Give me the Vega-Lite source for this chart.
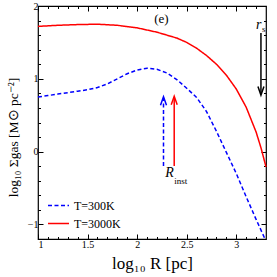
{
  "$schema": "https://vega.github.io/schema/vega-lite/v6.json",
  "autosize": "none",
  "width": 228,
  "height": 233,
  "padding": {"left": 38, "top": 6, "right": 11, "bottom": 38},
  "background": "white",
  "config": {
    "view": {"stroke": "black", "strokeWidth": 1.2},
    "font": "Liberation Serif",
    "axis": {"grid": false, "domain": false, "tickColor": "black", "tickWidth": 1, "labelFont": "Liberation Serif", "labelFontSize": 10, "labelColor": "black", "titleFont": "Liberation Serif", "titleFontWeight": "normal", "titleColor": "black"},
    "legend": {"padding": 0, "offset": 0}
  },
  "datasets": {
    "curves": [
      {"x": 1.0, "y": 0.75, "series": "T=300K"},
      {"x": 1.1, "y": 0.77, "series": "T=300K"},
      {"x": 1.2, "y": 0.79, "series": "T=300K"},
      {"x": 1.3, "y": 0.81, "series": "T=300K"},
      {"x": 1.4, "y": 0.83, "series": "T=300K"},
      {"x": 1.5, "y": 0.85, "series": "T=300K"},
      {"x": 1.6, "y": 0.88, "series": "T=300K"},
      {"x": 1.7, "y": 0.93, "series": "T=300K"},
      {"x": 1.8, "y": 1.0, "series": "T=300K"},
      {"x": 1.9, "y": 1.07, "series": "T=300K"},
      {"x": 2.0, "y": 1.12, "series": "T=300K"},
      {"x": 2.1, "y": 1.145, "series": "T=300K"},
      {"x": 2.2, "y": 1.13, "series": "T=300K"},
      {"x": 2.3, "y": 1.08, "series": "T=300K"},
      {"x": 2.4, "y": 0.99, "series": "T=300K"},
      {"x": 2.5, "y": 0.87, "series": "T=300K"},
      {"x": 2.6, "y": 0.745, "series": "T=300K"},
      {"x": 2.7, "y": 0.55, "series": "T=300K"},
      {"x": 2.8, "y": 0.28, "series": "T=300K"},
      {"x": 2.9, "y": -0.01, "series": "T=300K"},
      {"x": 3.0, "y": -0.3, "series": "T=300K"},
      {"x": 3.1, "y": -0.62, "series": "T=300K"},
      {"x": 3.2, "y": -0.93, "series": "T=300K"},
      {"x": 3.29, "y": -1.2, "series": "T=300K"},
      {"x": 1.0, "y": 1.72, "series": "T=3000K"},
      {"x": 1.2, "y": 1.735, "series": "T=3000K"},
      {"x": 1.4, "y": 1.745, "series": "T=3000K"},
      {"x": 1.6, "y": 1.75, "series": "T=3000K"},
      {"x": 1.8, "y": 1.735, "series": "T=3000K"},
      {"x": 2.0, "y": 1.7, "series": "T=3000K"},
      {"x": 2.2, "y": 1.64, "series": "T=3000K"},
      {"x": 2.4, "y": 1.56, "series": "T=3000K"},
      {"x": 2.5, "y": 1.5, "series": "T=3000K"},
      {"x": 2.6, "y": 1.42, "series": "T=3000K"},
      {"x": 2.7, "y": 1.32, "series": "T=3000K"},
      {"x": 2.8, "y": 1.2, "series": "T=3000K"},
      {"x": 2.9, "y": 1.05, "series": "T=3000K"},
      {"x": 3.0, "y": 0.86, "series": "T=3000K"},
      {"x": 3.1, "y": 0.61, "series": "T=3000K"},
      {"x": 3.2, "y": 0.27, "series": "T=3000K"},
      {"x": 3.25, "y": 0.05, "series": "T=3000K"},
      {"x": 3.3, "y": -0.21, "series": "T=3000K"}
    ],
    "arrows": [
      {"x": 2.266, "y": -0.197, "y2": 0.74, "tip": 0.752, "series": "T=300K"},
      {"x": 2.374, "y": -0.197, "y2": 0.75, "tip": 0.76, "series": "T=3000K"}
    ],
    "rs": [
      {"x": 3.249, "y": 1.629, "y2": 0.79, "tip": 0.776}
    ]
  },
  "resolve": {"axis": {"x": "independent", "y": "independent"}},
  "layer": [
    {
      "data": {"name": "curves"},
      "mark": {"type": "line", "strokeWidth": 1.5},
      "encoding": {
        "x": {"field": "x", "type": "quantitative", "scale": {"domain": [1, 3.3], "nice": false, "zero": false},
          "axis": {"orient": "bottom", "values": [1, 1.5, 2, 2.5, 3], "format": "~g", "tickSize": -5, "labelPadding": 5, "title": "log₁₀ R  [pc]", "titleFontSize": 17, "titleX": 114, "titleY": 24, "titleAlign": "center", "titleBaseline": "middle"}},
        "y": {"field": "y", "type": "quantitative", "scale": {"domain": [-1.2, 2], "nice": false, "zero": false},
          "axis": {"orient": "left", "values": [-1, 0, 1, 2], "format": "~g", "tickSize": -5, "labelPadding": 5, "title": "log₁₀ Σgas  [M⊙ pc⁻²]", "titleFontSize": 13.5, "titleX": -25, "titleY": 131, "titleAlign": "center", "titleBaseline": "middle", "titleAngle": -90}},
        "color": {"field": "series", "type": "nominal", "scale": {"domain": ["T=300K", "T=3000K"], "range": ["#0000ff", "#ff0000"]},
          "legend": {"orient": "none", "legendX": 9, "legendY": 188, "title": null, "symbolType": "stroke", "symbolSize": 441, "symbolStrokeWidth": 1.5, "labelFont": "Liberation Serif", "labelFontSize": 12, "labelColor": "black", "rowPadding": -5, "labelOffset": 4}},
        "strokeDash": {"field": "series", "type": "nominal", "scale": {"domain": ["T=300K", "T=3000K"], "range": [[4, 2.5], [1, 0]]},
          "legend": {"orient": "none", "legendX": 9, "legendY": 188, "title": null, "symbolType": "stroke", "symbolSize": 441, "symbolStrokeWidth": 1.5, "labelFont": "Liberation Serif", "labelFontSize": 12, "labelColor": "black", "rowPadding": -5, "labelOffset": 4}}
      }
    },
    {
      "data": {"name": "arrows"},
      "mark": {"type": "rule", "strokeWidth": 1.5},
      "encoding": {
        "x": {"field": "x", "type": "quantitative", "axis": {"orient": "bottom", "values": [1.1, 1.2, 1.3, 1.4, 1.6, 1.7, 1.8, 1.9, 2.1, 2.2, 2.3, 2.4, 2.6, 2.7, 2.8, 2.9, 3.1, 3.2], "tickSize": -2.5, "labels": false, "title": null}},
        "y": {"field": "y", "type": "quantitative", "axis": {"orient": "left", "values": [-0.8, -0.6, -0.4, -0.2, 0.2, 0.4, 0.6, 0.8, 1.2, 1.4, 1.6, 1.8], "tickSize": -2.5, "labels": false, "title": null}},
        "y2": {"field": "y2"},
        "color": {"field": "series", "type": "nominal"},
        "strokeDash": {"field": "series", "type": "nominal"}
      }
    },
    {
      "data": {"name": "arrows"},
      "mark": {"type": "point", "shape": "M-0.6,1.7 L0,0 L0.6,1.7", "filled": false, "size": 100, "strokeWidth": 1.5, "opacity": 1},
      "encoding": {
        "x": {"field": "x", "type": "quantitative", "axis": {"orient": "top", "values": [1, 1.5, 2, 2.5, 3], "tickSize": -5, "labels": false, "title": null}},
        "y": {"field": "tip", "type": "quantitative", "axis": {"orient": "right", "values": [-1, 0, 1, 2], "tickSize": -5, "labels": false, "title": null}},
        "color": {"field": "series", "type": "nominal"}
      }
    },
    {
      "data": {"name": "rs"},
      "mark": {"type": "rule", "strokeWidth": 1.5, "color": "black"},
      "encoding": {
        "x": {"field": "x", "type": "quantitative", "axis": {"orient": "top", "values": [1.1, 1.2, 1.3, 1.4, 1.6, 1.7, 1.8, 1.9, 2.1, 2.2, 2.3, 2.4, 2.6, 2.7, 2.8, 2.9, 3.1, 3.2], "tickSize": -2.5, "labels": false, "title": null}},
        "y": {"field": "y", "type": "quantitative", "axis": {"orient": "right", "values": [-0.8, -0.6, -0.4, -0.2, 0.2, 0.4, 0.6, 0.8, 1.2, 1.4, 1.6, 1.8], "tickSize": -2.5, "labels": false, "title": null}},
        "y2": {"field": "y2"}
      }
    },
    {
      "data": {"name": "rs"},
      "mark": {"type": "point", "shape": "M-0.6,-1.7 L0,0 L0.6,-1.7", "filled": false, "size": 100, "strokeWidth": 1.5, "color": "black", "opacity": 1},
      "encoding": {
        "x": {"field": "x", "type": "quantitative", "axis": null},
        "y": {"field": "tip", "type": "quantitative", "axis": null}
      }
    },
    {
      "data": {"values": [
        {"x": 2.245, "y": 1.817, "t": "(e)"}
      ]},
      "mark": {"type": "text", "font": "Liberation Serif", "fontSize": 13, "color": "black", "align": "center", "baseline": "middle"},
      "encoding": {
        "x": {"field": "x", "type": "quantitative", "axis": null},
        "y": {"field": "y", "type": "quantitative", "axis": null},
        "text": {"field": "t"}
      }
    },
    {
      "data": {"values": [
        {"x": 2.328, "y": -0.29, "t": "R"},
        {"x": 3.227, "y": 1.739, "t": "r"}
      ]},
      "mark": {"type": "text", "font": "Liberation Serif", "fontStyle": "italic", "fontSize": 14, "color": "black", "align": "center", "baseline": "middle"},
      "encoding": {
        "x": {"field": "x", "type": "quantitative", "axis": null},
        "y": {"field": "y", "type": "quantitative", "axis": null},
        "text": {"field": "t"}
      }
    },
    {
      "data": {"values": [
        {"x": 2.44, "y": -0.41, "t": "inst"},
        {"x": 3.278, "y": 1.68, "t": "s"}
      ]},
      "mark": {"type": "text", "font": "Liberation Serif", "fontSize": 9, "color": "black", "align": "center", "baseline": "middle"},
      "encoding": {
        "x": {"field": "x", "type": "quantitative", "axis": null},
        "y": {"field": "y", "type": "quantitative", "axis": null},
        "text": {"field": "t"}
      }
    }
  ]
}
